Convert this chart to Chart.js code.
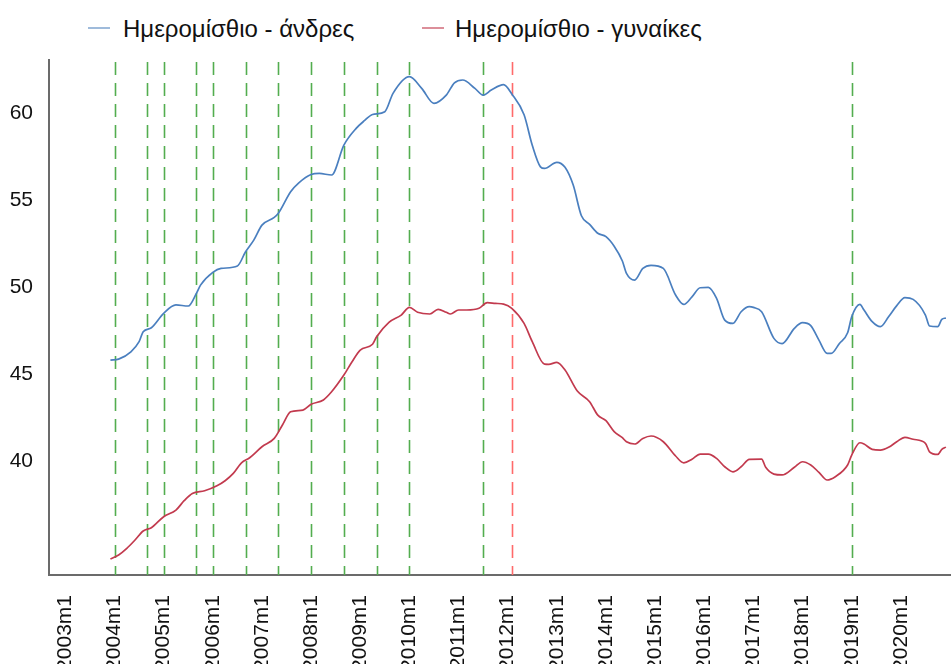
<!DOCTYPE html>
<html lang="el">
<head>
<meta charset="utf-8">
<script src="https://cdn.jsdelivr.net/npm/chart.js@4.4.1/dist/chart.umd.min.js"></script>
<style>
  html, body { margin: 0; padding: 0; background: #fff; overflow: hidden; }
  #wrap { position: relative; width: 952px; height: 664px; overflow: hidden; }
  #box { position: absolute; left: 0; top: 0; width: 952px; height: 680px; }
  .lg { position: absolute; top: 15px; height: 28px; line-height: 28px; font: 24px "Liberation Sans", Arial, sans-serif; color: #111; white-space: nowrap; }
  .lg i { position: absolute; top: 12px; width: 22px; height: 2px; }
  .lg span { position: absolute; white-space: nowrap; }
</style>
</head>
<body>
<div id="wrap">
  <div class="lg" style="left:88px"><i style="left:0;background:#9fbbdb"></i><span style="left:35px">Ημερομίσθιο - άνδρες</span></div>
  <div class="lg" style="left:422px"><i style="left:0;background:#dc8f9a"></i><span style="left:33px">Ημερομίσθιο - γυναίκες</span></div>
  <div id="box"><canvas id="wageChart"></canvas></div>
</div>
<script>
/* =========================================================
   DATA  (x = months since 2003m1)
   ========================================================= */
const tickLabels = ["2003m1","2004m1","2005m1","2006m1","2007m1","2008m1","2009m1","2010m1","2011m1",
                    "2012m1","2013m1","2014m1","2015m1","2016m1","2017m1","2018m1","2019m1","2020m1"];
const yTicks = [40, 45, 50, 55, 60];

// minimum wage changes (green) and the 2012 cut (red)
const greenEvents = ["2004m1","2004m9","2005m1","2005m9","2006m1","2006m9","2007m5","2008m1",
                     "2008m9","2009m5","2010m1","2011m7","2019m1"];
const redEvents = ["2012m2"];

const menMonths = [11,13,16,18,19,21,24,27,30,32,33,36,38,42,44,46,48,51,52,55,57,60,62,65,68,71,73,75,78,80,
                   84,87,90,93,95,97,100,102,104,107,109,112,114,116,117,120,122,124,126,128,130,132,134,136,137,139,141,143,146,149,
                   151,153,155,157,159,161,163,165,167,168,170,173,175,178,180,182,184,186,187,189,191,192,194,195,197,199,201,203,205,207,
                   210,211,213,214,215];
const menWage = [45.80,45.86,46.28,46.86,47.43,47.66,48.49,48.97,48.91,49.64,50.11,50.84,51.07,51.21,52.03,52.70,53.56,54.00,54.24,55.48,
                 55.99,56.47,56.53,56.44,58.16,59.12,59.56,59.92,60.08,61.13,62.09,61.42,60.56,61.03,61.74,61.90,61.42,61.03,61.32,61.63,
                 61.10,59.90,58.15,56.91,56.82,57.17,56.88,55.86,54.10,53.60,53.09,52.90,52.35,51.50,50.79,50.40,51.07,51.25,51.07,49.54,
                 49.00,49.44,49.96,49.98,49.35,48.10,47.91,48.58,48.87,48.83,48.58,47.05,46.75,47.63,47.95,47.78,46.95,46.19,46.19,46.76,
                 47.37,48.29,49.00,48.68,48.01,47.72,48.29,48.93,49.39,49.29,48.39,47.76,47.72,48.14,48.22];

const womenMonths = [11,13,15,17,19,21,24,27,29,31,34,37,39,41,43,45,48,51,53,55,58,60,63,65,68,70,72,75,76,79,
                     82,84,86,89,91,93,94,96,98,101,103,105,107,109,112,114,117,118,120,122,125,128,130,132,134,136,137,139,141,143,
                     146,149,151,153,155,157,159,161,163,165,167,170,171,173,175,178,180,182,184,186,188,191,192,194,195,197,199,201,203,205,
                     207,210,211,213,214,215];
const womenWage = [34.37,34.60,34.98,35.46,35.98,36.17,36.80,37.18,37.72,38.14,38.29,38.58,38.87,39.29,39.90,40.19,40.82,41.30,42.07,42.83,
                   42.93,43.26,43.51,43.98,44.94,45.71,46.38,46.71,47.14,47.97,48.39,48.83,48.55,48.45,48.72,48.55,48.45,48.68,48.68,48.78,
                   49.10,49.06,49.02,48.78,47.91,46.86,45.57,45.56,45.67,45.23,44.02,43.41,42.64,42.32,41.69,41.34,41.11,40.98,41.30,41.44,
                   41.11,40.29,39.90,40.10,40.40,40.40,40.15,39.67,39.38,39.67,40.10,40.11,39.64,39.25,39.20,39.64,39.96,39.77,39.35,38.91,
                   39.10,39.77,40.34,41.05,40.98,40.67,40.63,40.79,41.11,41.36,41.25,41.02,40.53,40.38,40.67,40.80];

/* =========================================================
   HELPERS
   ========================================================= */
function monthIndex(label) {
    const [y, m] = label.split("m").map(Number);
    return (y - 2003) * 12 + (m - 1);
}
const toPoints = (xs, ys) => xs.map((x, i) => ({ x, y: ys[i] }));

const FONT = { family: '"Liberation Sans", Arial, sans-serif', size: 21 };

// dashed vertical markers, placed through the x scale
const eventLines = {
    id: "eventLines",
    beforeDatasetsDraw(chart) {
        const { ctx, chartArea, scales: { x } } = chart;
        const draw = (labels, color) => {
            labels.forEach(l => {
                const px = Math.round(x.getPixelForValue(monthIndex(l))) + 0.5;
                ctx.save();
                ctx.strokeStyle = color;
                ctx.lineWidth = 1.6;
                ctx.setLineDash([13, 8]);
                ctx.beginPath();
                ctx.moveTo(px, chartArea.top + 2);
                ctx.lineTo(px, chartArea.bottom);
                ctx.stroke();
                ctx.restore();
            });
        };
        draw(greenEvents, "#53ad4f");
        draw(redEvents, "#ff6a6a");
    }
};

/* =========================================================
   CHART
   ========================================================= */
new Chart(document.getElementById("wageChart"), {
    type: "line",
    data: {
        datasets: [
            {
                label: "Ημερομίσθιο - άνδρες",
                data: toPoints(menMonths, menWage),
                borderColor: "#4a7fbf",
                borderWidth: 1.7,
                pointRadius: 0,
                cubicInterpolationMode: "monotone"
            },
            {
                label: "Ημερομίσθιο - γυναίκες",
                data: toPoints(womenMonths, womenWage),
                borderColor: "#c23a4e",
                borderWidth: 1.7,
                pointRadius: 0,
                cubicInterpolationMode: "monotone"
            }
        ]
    },
    options: {
        responsive: true,
        maintainAspectRatio: false,
        animation: false,
        layout: { padding: { top: 60, right: 2, left: 0, bottom: 0 } },
        plugins: { legend: { display: false }, tooltip: { enabled: false } },
        scales: {
            x: {
                type: "linear",
                min: -4,
                max: 216,
                grid: { display: false, drawTicks: false },
                border: { display: true, color: "#6b6b6b", width: 2 },
                afterFit: s => { s.height = 105; },
                afterBuildTicks: s => { s.ticks = tickLabels.map(l => ({ value: monthIndex(l) })); },
                ticks: {
                    autoSkip: false,
                    minRotation: 90,
                    maxRotation: 90,
                    padding: 20,
                    color: "#111",
                    font: FONT,
                    callback: v => tickLabels.find(l => monthIndex(l) === v) || ""
                }
            },
            y: {
                min: 33.45,
                max: 63.05,
                grid: { display: false, drawTicks: false },
                border: { display: true, color: "#6b6b6b", width: 2 },
                afterFit: s => { s.width = 49; },
                afterBuildTicks: s => { s.ticks = yTicks.map(v => ({ value: v })); },
                ticks: { padding: 16, color: "#111", font: FONT }
            }
        }
    },
    plugins: [eventLines]
});
</script>
</body>
</html>
